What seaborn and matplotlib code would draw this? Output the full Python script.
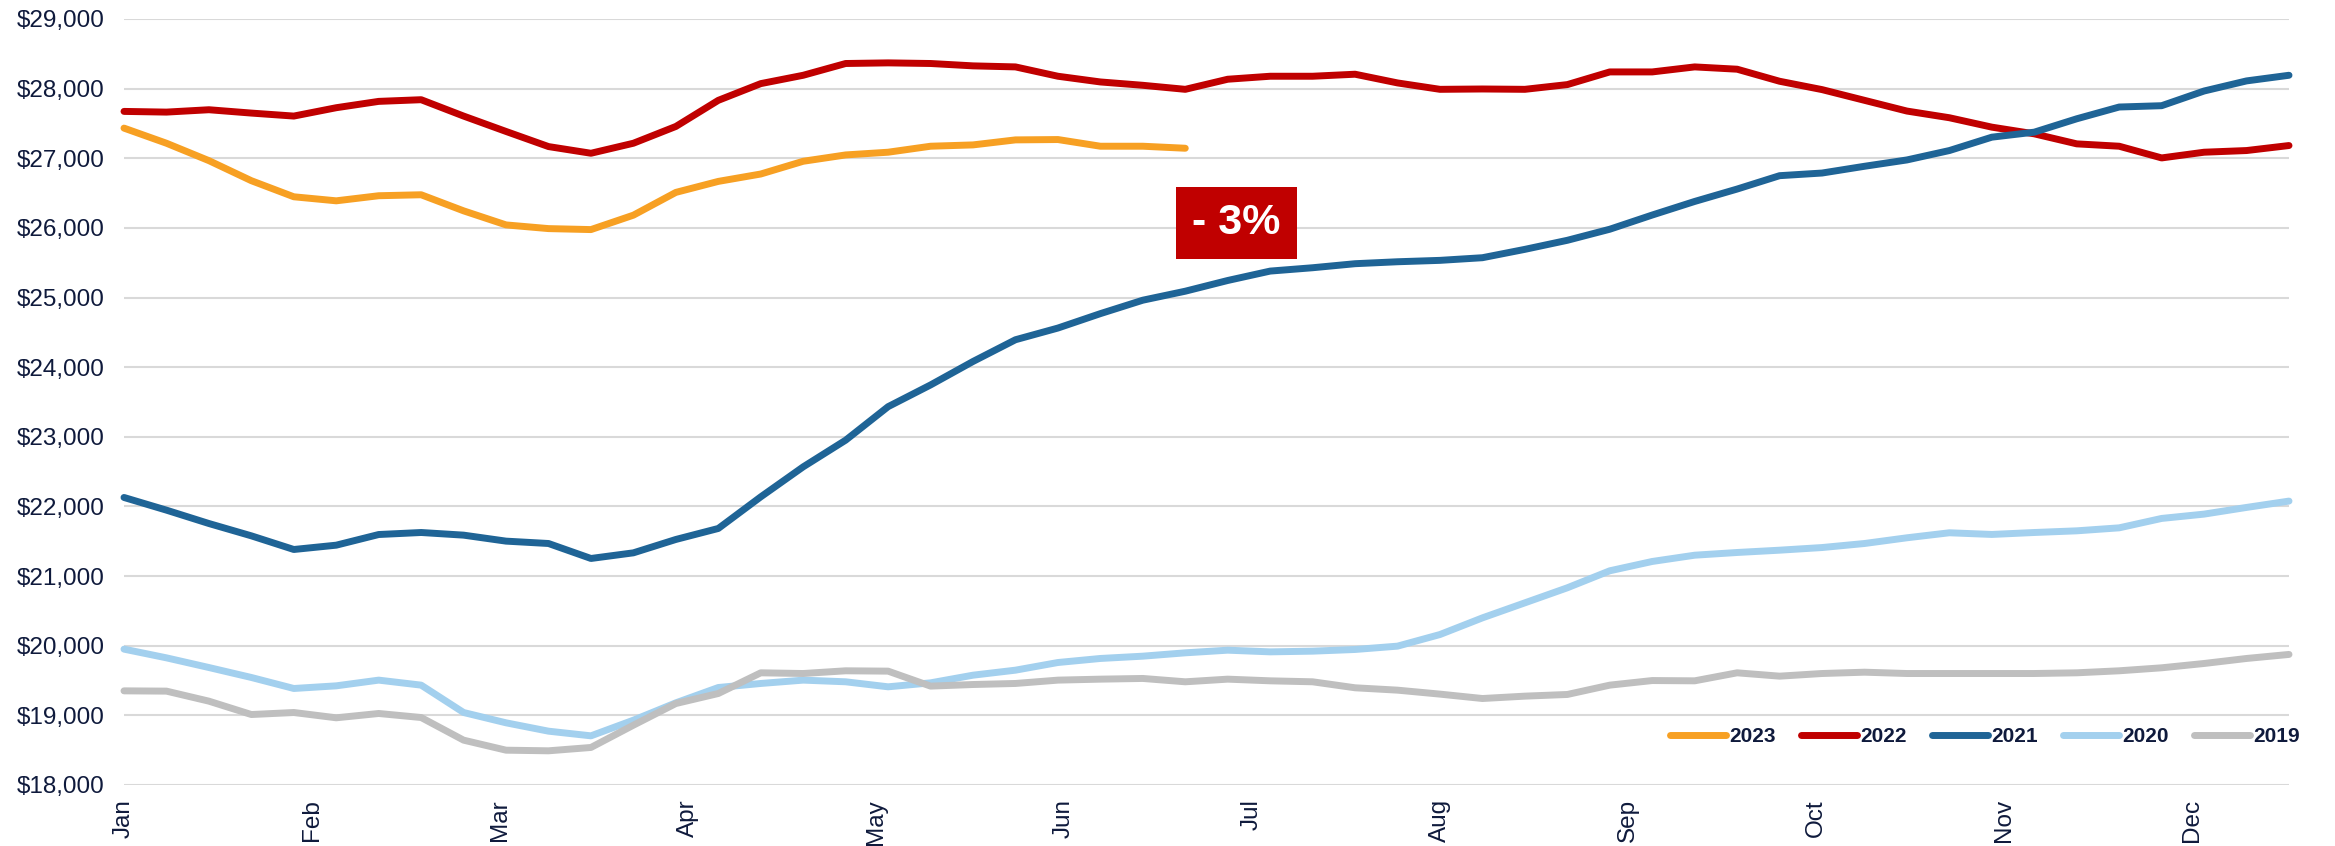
import numpy as np
import pandas as pd
import matplotlib
matplotlib.use("Agg")
import matplotlib.pyplot as plt
from matplotlib.ticker import FuncFormatter, FixedLocator
import seaborn as sns

# ---------------- data ----------------
months = ["Jan", "Feb", "Mar", "Apr", "May", "Jun", "Jul", "Aug", "Sep", "Oct", "Nov", "Dec"]
years = ["2023", "2022", "2021", "2020", "2019"]

y2023 = [27433, 27216, 26966, 26678, 26447, 26389, 26462, 26476, 26245, 26043,
         25990, 25976, 26183, 26510, 26668, 26774, 26957, 27048, 27087, 27173,
         27192, 27264, 27269, 27173, 27173, 27144]
y2022 = [27673, 27663, 27697, 27649, 27606, 27726, 27817, 27841, 27606, 27385,
         27168, 27072, 27216, 27457, 27832, 28072, 28192, 28361, 28370, 28361,
         28327, 28312, 28178, 28096, 28048, 27990, 28135, 28178, 28178, 28207,
         28082, 27990, 27995, 27990, 28058, 28240, 28240, 28312, 28279, 28106,
         27986, 27832, 27678, 27582, 27447, 27351, 27207, 27173, 27005, 27087,
         27111, 27183]
y2021 = [22129, 21947, 21755, 21578, 21382, 21444, 21597, 21626, 21588, 21502,
         21468, 21253, 21334, 21526, 21684, 22138, 22569, 22952, 23433, 23745,
         24082, 24394, 24562, 24769, 24962, 25091, 25245, 25380, 25428, 25486,
         25514, 25534, 25572, 25692, 25822, 25981, 26185, 26380, 26558, 26750,
         26788, 26885, 26976, 27111, 27303, 27375, 27567, 27736, 27755, 27966,
         28111, 28192]
y2020 = [19951, 19826, 19687, 19544, 19386, 19424, 19506, 19434, 19041, 18893,
         18773, 18706, 18931, 19180, 19400, 19458, 19506, 19482, 19410, 19467,
         19577, 19649, 19759, 19817, 19850, 19898, 19936, 19912, 19922, 19946,
         19994, 20161, 20400, 20616, 20832, 21076, 21210, 21300, 21339, 21372,
         21410, 21468, 21550, 21622, 21598, 21626, 21650, 21693, 21828, 21890,
         21986, 22077]
y2019 = [19352, 19348, 19204, 19012, 19041, 18965, 19027, 18969, 18644, 18500,
         18491, 18539, 18859, 19170, 19314, 19611, 19601, 19640, 19635, 19420,
         19443, 19458, 19506, 19520, 19530, 19482, 19520, 19496, 19482, 19396,
         19362, 19305, 19242, 19276, 19300, 19434, 19500, 19496, 19611, 19563,
         19601, 19620, 19601, 19601, 19601, 19601, 19611, 19640, 19683, 19745,
         19817, 19875]

annotation_text = "- 3%"

series = {"2023": y2023, "2022": y2022, "2021": y2021, "2020": y2020, "2019": y2019}
palette = {"2023": "#F7A023", "2022": "#C00000", "2021": "#1F6496",
           "2020": "#A3D0EE", "2019": "#BFBFBF"}

rows = []
for yr in years:
    for wk, v in enumerate(series[yr]):
        rows.append({"week": wk, "value": v, "year": yr})
df = pd.DataFrame(rows)

# ---------------- plot ----------------
sns.set_theme(style="white")
plt.rcParams["font.family"] = ["Liberation Sans", "DejaVu Sans"]

W, H = 2335, 846
fig = plt.figure(figsize=(W / 100, H / 100), dpi=100)
ax = fig.add_axes([124 / W, 1 - 785 / H, (2289 - 124) / W, (785 - 19) / H])

sns.lineplot(data=df, x="week", y="value", hue="year", hue_order=years,
             palette=palette, linewidth=5.0, estimator=None, sort=True,
             ax=ax, legend=True)
for ln in ax.lines:
    ln.set_solid_capstyle("round")
    ln.set_solid_joinstyle("round")
    ln.set_clip_on(False)

ax.set_xlim(0, 51)
ax.set_ylim(18000, 29000)
ax.set_yticks(np.arange(18000, 29001, 1000))
ax.yaxis.set_major_formatter(FuncFormatter(lambda v, p: f"${v:,.0f}"))
month_step = 31 / 7
ax.xaxis.set_major_locator(FixedLocator(np.arange(len(months)) * month_step))
ax.set_xticklabels(months, rotation=90, va="top", ha="center")

ax.grid(axis="y", color="#D9D9D9", linewidth=1.5)
ax.grid(axis="x", visible=False)
ax.set_axisbelow(True)
for s in ax.spines.values():
    s.set_visible(False)
ax.tick_params(axis="both", length=0, labelsize=17.5, colors="#0F1A3C")
ax.tick_params(axis="y", pad=14)
ax.tick_params(axis="x", pad=10)
ax.set_xlabel("")
ax.set_ylabel("")

# legend
handles, labels = ax.get_legend_handles_labels()
leg = ax.legend(handles, labels, ncol=5, loc="center right",
                bbox_to_anchor=(1.005, 0.063), frameon=False,
                handlelength=2.7, handletextpad=0.15, columnspacing=1.2,
                borderpad=0, borderaxespad=0,
                prop={"family": "Liberation Sans", "weight": "bold", "size": 15})
for t in leg.get_texts():
    t.set_color("#0F1A3C")
for h in leg.legend_handles:
    h.set_linewidth(5.0)
    h.set_solid_capstyle("round")

# annotation
ax.text(26.2, 26069, annotation_text, color="white", fontsize=31,
        fontweight="bold", ha="center", va="center",
        bbox=dict(boxstyle="square,pad=0.38", facecolor="#C00000",
                  edgecolor="none"))

fig.savefig("out.png", dpi=100, facecolor="white")
